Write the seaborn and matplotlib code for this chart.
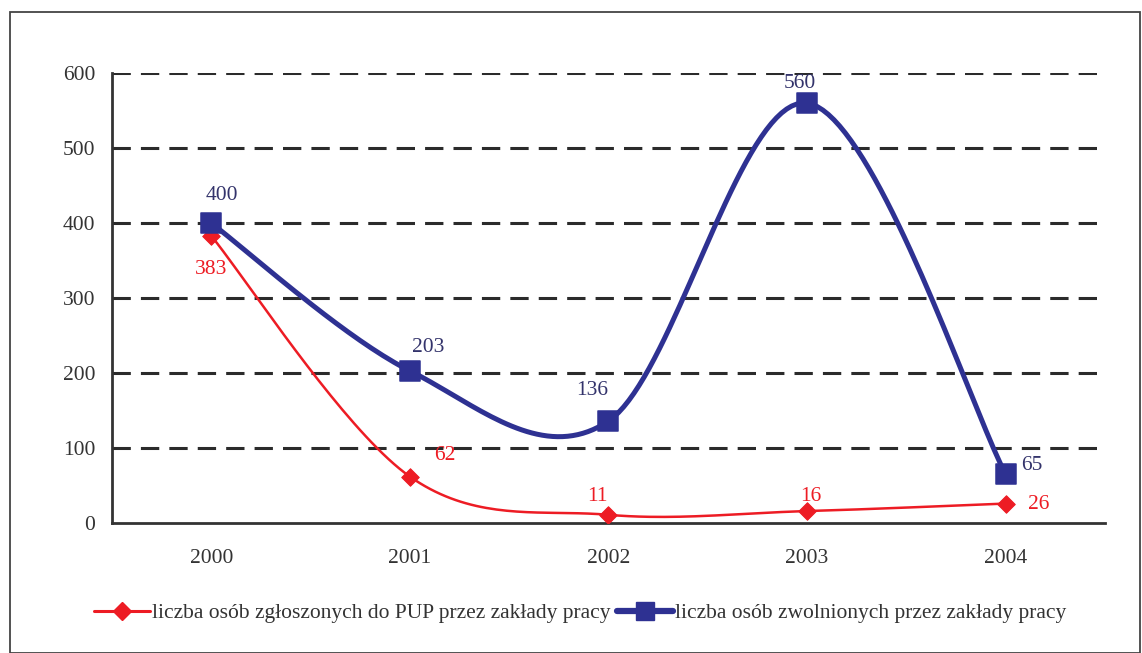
import numpy as np
import pandas as pd
import matplotlib
matplotlib.use("Agg")
import matplotlib.pyplot as plt
from matplotlib.lines import Line2D
from matplotlib.patches import Rectangle
import seaborn as sns

years = ["2000", "2001", "2002", "2003", "2004"]
zgloszone = [383, 62, 11, 16, 26]
zwolnione = [400, 203, 136, 560, 65]
label_red = "liczba osób zgłoszonych do PUP przez zakłady pracy"
label_blue = "liczba osób zwolnionych przez zakłady pracy"

RED = "#ED1C24"
BLUE = "#2E3192"
BLUE_TXT = "#33336B"


def smooth(xs, ys, n=40):
    """Excel-style smoothed line (Bezier through the points)."""
    pts = np.column_stack([xs, ys]).astype(float)
    ext = np.vstack([pts[0], pts, pts[-1]])
    out = []
    t = np.linspace(0, 1, n)[:, None]
    for i in range(1, len(ext) - 2):
        p0, p1, p2, p3 = ext[i - 1], ext[i], ext[i + 1], ext[i + 2]
        c1 = p1 + (p2 - p0) / 6
        c2 = p2 - (p3 - p1) / 6
        seg = ((1 - t) ** 3) * p1 + 3 * ((1 - t) ** 2) * t * c1 + 3 * (1 - t) * t ** 2 * c2 + t ** 3 * p2
        out.append(seg)
    arr = np.vstack(out)
    return arr[:, 0], arr[:, 1]


sns.set_theme(style="white")
plt.rcParams["font.family"] = ["Liberation Serif", "DejaVu Serif"]

fig = plt.figure(figsize=(11.42, 6.53), dpi=100)
ax = fig.add_axes([0.098, 0.199, 0.8696, 0.689])

x = np.arange(len(years))
df = pd.DataFrame({"x": np.concatenate([x, x]),
                   "y": zgloszone + zwolnione,
                   "seria": [label_red] * 5 + [label_blue] * 5})

rx, ry = smooth(x, zgloszone)
bx, by = smooth(x, zwolnione)
ax.plot(rx, ry, color=RED, lw=1.8, zorder=3)
ax.plot(bx, by, color=BLUE, lw=3.6, zorder=4)
sns.scatterplot(data=df[df.seria == label_red], x="x", y="y", marker="D", s=80,
                color=RED, edgecolor=RED, ax=ax, zorder=5, legend=False)
sns.scatterplot(data=df[df.seria == label_blue], x="x", y="y", marker="s", s=190,
                color=BLUE, edgecolor=BLUE, ax=ax, zorder=6, legend=False)

ax.set_xlim(-0.5, 4.5)
ax.set_ylim(0, 600)
ax.set_yticks(range(0, 601, 100))
ax.set_xticks(x)
ax.set_xticklabels(years)
ax.set_xticks(np.arange(-0.5, 4.6, 1), minor=True)
ax.tick_params(axis="x", which="major", length=0, pad=19, labelsize=15.5, colors="#333333")
ax.tick_params(axis="x", which="minor", length=7, width=1.5, color="#333333", direction="inout")
ax.tick_params(axis="y", length=6, width=1.5, color="#333333", labelsize=15.5, colors="#333333", pad=6)
for lbl in ax.get_yticklabels() + ax.get_xticklabels():
    lbl.set_color("#333333")
ax.set_xlabel("")
ax.set_ylabel("")

for v in range(100, 601, 100):
    ax.axhline(v, color="#2b2b2b", lw=2.2, ls=(0, (6, 3.3)), zorder=1)

for s in ["top", "right"]:
    ax.spines[s].set_visible(False)
for s in ["left", "bottom"]:
    ax.spines[s].set_color("#333333")
    ax.spines[s].set_linewidth(2)

# data labels
blue_off = [(8, 20), (13, 17), (-12, 22), (-5, 14), (19, 6)]
red_off = [(0, -24), (25, 15), (-8, 13), (3, 10.5), (24, -1)]
for i in range(5):
    ax.annotate(str(zwolnione[i]), (x[i], zwolnione[i]), xytext=blue_off[i],
                textcoords="offset points", ha="center", va="center",
                fontsize=15.5, color=BLUE_TXT)
    ax.annotate(str(zgloszone[i]), (x[i], zgloszone[i]), xytext=red_off[i],
                textcoords="offset points", ha="center", va="center",
                fontsize=15.5, color=RED)

handles = [Line2D([], [], color=RED, lw=2.2, marker="D", markersize=9, label=label_red),
           Line2D([], [], color=BLUE, lw=4.5, marker="s", markersize=13, label=label_blue)]
fig.legend(handles=handles, loc="center", bbox_to_anchor=(0.508, 0.061), ncol=2,
           frameon=False, fontsize=15.5, handlelength=2.6, handletextpad=0.1,
           columnspacing=0.3, labelcolor="#333333")

fig.patches.append(Rectangle((10 / 1142, 0), 1130 / 1142, 641 / 653, transform=fig.transFigure,
                             fill=False, edgecolor="#444444", lw=1.3))

fig.savefig("out.png", dpi=100)
